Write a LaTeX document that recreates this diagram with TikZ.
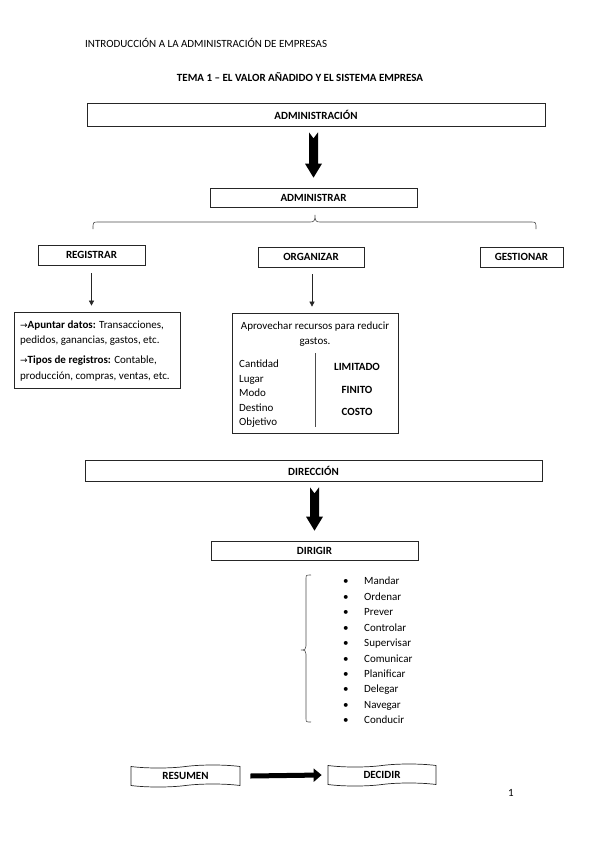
\documentclass[tikz,border=0pt]{standalone}
\usepackage{fontspec}
\setmainfont{Carlito}
\newfontfamily\symfont{DejaVu Sans}
\usetikzlibrary{calc,arrows.meta,shapes.symbols}
\newcommand\rarr{{\symfont\fontsize{9}{11}\selectfont →}}
\newcommand\fatdown[2]{%
  \fill let \p1=(#1.south), \p2=(#2.north) in
   (\x2-4.5pt,\y1-6pt) -- (\x2,\y1-12pt) -- (\x2+4.5pt,\y1-6pt) --
   (\x2+4.5pt,\y2+24pt) -- (\x2+8.5pt,\y2+24pt) -- (\x2,\y2+10pt) --
   (\x2-8.5pt,\y2+24pt) -- (\x2-4.5pt,\y2+24pt) -- cycle;}
\begin{document}
\begin{tikzpicture}[x=1pt,y=-1pt,
  box/.style={draw=black!85, line width=0.7pt, inner sep=0pt,
    font=\bfseries\fontsize{11}{13}\selectfont},
  txt/.style={inner sep=0pt, font=\fontsize{11}{15}\selectfont},
  btxt/.style={inner sep=0pt, font=\bfseries\fontsize{11}{13}\selectfont},
  thin arrow/.style={draw=black!85, line width=0.6pt, -{Triangle[length=5pt,width=5pt]}},
  bracestyle/.style={draw=black!70, line width=0.6pt}]
\useasboundingbox (0,0) rectangle (599,848);

% header
\node[txt, anchor=west, font=\fontsize{11}{13}\selectfont] (header) at (85,43) {INTRODUCCIÓN A LA ADMINISTRACIÓN DE EMPRESAS};
\node[btxt] (title) at (300,77) {TEMA 1 – EL VALOR AÑADIDO Y EL SISTEMA EMPRESA};

% top part
\node[box, minimum width=458pt, minimum height=23pt] (admin) at (316,114.5) {ADMINISTRACIÓN};
\node[box, minimum width=207pt, minimum height=19pt] (adminr) at (313.5,197.5) {ADMINISTRAR};
\fatdown{admin}{adminr}

% horizontal brace
\coordinate (bL) at (93,229);
\coordinate (bR) at (536,229);
\coordinate (bT) at (315,215);
\draw[bracestyle] (bL) .. controls (93,222) and (93,222) .. (98,222) -- (310,222)
  .. controls (314,222) and (315,221) .. (bT)
  .. controls (315,221) and (316,222) .. (320,222) -- (531,222)
  .. controls (536,222) and (536,222) .. (bR);

\node[box, minimum width=107pt, minimum height=20pt] (registrar) at (91.5,255) {REGISTRAR};
\node[box, minimum width=106pt, minimum height=20pt] (organizar) at (311,257) {ORGANIZAR};
\node[box, minimum width=83pt, minimum height=20pt] (gestionar) at (521.5,257) {GESTIONAR};

\node[draw=black!85, line width=0.7pt, minimum width=166pt, minimum height=76pt] (leftbox) at (97,350) {};
\node[txt, anchor=north west, align=left] (lefttext) at (20,321)
 {\rarr\textbf{Apuntar datos:} Transacciones,\\pedidos, ganancias, gastos, etc.\\[4.5pt]
  \rarr\textbf{Tipos de registros:} Contable,\\[1.5pt]producción, compras, ventas, etc.};

\node[draw=black!85, line width=0.7pt, minimum width=166pt, minimum height=120pt] (rightbox) at (315,373) {};
\node[txt, align=center] (aprov) at (315,334) {Aprovechar recursos para reducir\\gastos.};
\coordinate (sepA) at (315,353);
\coordinate (sepB) at (315,427);
\draw[black!70, line width=0.6pt] (sepA) -- (sepB);
\node[txt, anchor=north west, align=left, font=\fontsize{11}{14.5}\selectfont] (cols) at (239,360)
 {Cantidad\\Lugar\\Modo\\Destino\\Objetivo};
\node[btxt] (limitado) at (357,367) {LIMITADO};
\node[btxt] (finito) at (357,390) {FINITO};
\node[btxt] (costo) at (357,412) {COSTO};

\draw[thin arrow] ($(registrar.south)+(0,8)$) -- ($(registrar.south |- leftbox.north)+(0,-6)$);
\draw[thin arrow] ($(organizar.south)+(1,7)$) -- ($(organizar.south |- rightbox.north)+(1,-6)$);

% direction part
\node[box, minimum width=457pt, minimum height=21pt] (direccion) at (313.5,470.5) {DIRECCIÓN};
\node[box, minimum width=207pt, minimum height=19pt] (dirigir) at (314.5,550.5) {DIRIGIR};
\fatdown{direccion}{dirigir}

% vertical brace
\coordinate (vT) at (311,575);
\coordinate (vB) at (311,722);
\coordinate (vM) at (301,650);
\draw[bracestyle] (vT) .. controls (306,575) and (306,575) .. (306,579) -- (306,646)
  .. controls (306,649) and (305,650) .. (vM)
  .. controls (305,650) and (306,651) .. (306,654) -- (306,718)
  .. controls (306,722) and (306,722) .. (vB);

\node[txt, anchor=north west, align=left, font=\fontsize{11}{15.45}\selectfont] (list) at (343,577)
 {\makebox[21pt][l]{\textbullet}Mandar\\
  \makebox[21pt][l]{\textbullet}Ordenar\\
  \makebox[21pt][l]{\textbullet}Prever\\
  \makebox[21pt][l]{\textbullet}Controlar\\
  \makebox[21pt][l]{\textbullet}Supervisar\\
  \makebox[21pt][l]{\textbullet}Comunicar\\
  \makebox[21pt][l]{\textbullet}Planificar\\
  \makebox[21pt][l]{\textbullet}Delegar\\
  \makebox[21pt][l]{\textbullet}Navegar\\
  \makebox[21pt][l]{\textbullet}Conducir};

% bottom
\node[box, tape, tape bend height=3pt, minimum width=109pt, minimum height=22pt] (resumen) at (185.5,776) {RESUMEN};
\node[box, tape, tape bend height=3pt, minimum width=108pt, minimum height=22pt] (decidir) at (382,775) {DECIDIR};
\draw[line width=5pt, -{Triangle[length=8pt,width=13pt]}] ($(resumen.east)+(10,0)$) -- ($(decidir.west)+(-6,0)$);

\node[txt] (pagenum) at (511,793) {1};
\end{tikzpicture}
\end{document}
